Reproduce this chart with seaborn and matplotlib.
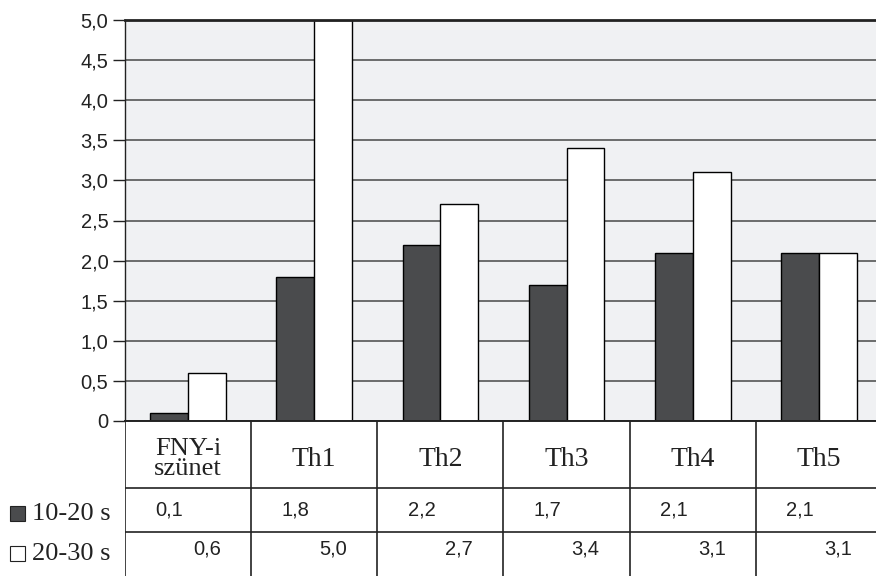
import pandas as pd
import matplotlib
matplotlib.use("Agg")
import matplotlib.pyplot as plt
from matplotlib.patches import Rectangle
from matplotlib.ticker import FuncFormatter, MultipleLocator
import seaborn as sns

# -----------------------------
# DATA
# -----------------------------
categories = ["FNY-i\nszünet", "Th1", "Th2", "Th3", "Th4", "Th5"]
series_names = ["10-20 s", "20-30 s"]
vals_10_20 = [0.1, 1.8, 2.2, 1.7, 2.1, 2.1]
vals_20_30 = [0.6, 5.0, 2.7, 3.4, 3.1, 2.1]
# numbers printed in the data table (as shown in the source)
table_10_20 = ["0,1", "1,8", "2,2", "1,7", "2,1", "2,1"]
table_20_30 = ["0,6", "5,0", "2,7", "3,4", "3,1", "3,1"]

df = pd.DataFrame({
    "cat": categories * 2,
    "series": [series_names[0]] * 6 + [series_names[1]] * 6,
    "value": vals_10_20 + vals_20_30,
})

# -----------------------------
# STYLE
# -----------------------------
sns.set_theme(style="white")
plt.rcParams["font.family"] = ["Liberation Sans", "DejaVu Sans"]
SERIF = ["Liberation Serif", "DejaVu Serif"]
DARK = "#4a4b4d"
BG = "#f0f1f3"
LINE = "#222222"

W, H = 876, 576
fig = plt.figure(figsize=(W / 100, H / 100), dpi=100, facecolor="white")

left = 125 / W
right = 882 / W
top_px, zero_px = 20, 421
ax = fig.add_axes([left, 1 - zero_px / H, right - left, (zero_px - top_px) / H])
tab = fig.add_axes([left, 0, right - left, 1 - zero_px / H], sharex=ax)

# -----------------------------
# BARS
# -----------------------------
sns.barplot(data=df, x="cat", y="value", hue="series",
            palette={series_names[0]: DARK, series_names[1]: "white"},
            width=0.6, gap=0, edgecolor="black", linewidth=1.0,
            legend=False, ax=ax)
ax.set_facecolor(BG)
ax.set_xlim(-0.5, 5.5)
ax.set_ylim(0, 5.0)
ax.yaxis.set_major_locator(MultipleLocator(0.5))
ax.yaxis.set_major_formatter(FuncFormatter(
    lambda v, p: "0" if abs(v) < 1e-9 else f"{v:.1f}".replace(".", ",")))
ax.set_axisbelow(True)
ax.yaxis.grid(True, color="#555555", linewidth=1.2)
ax.xaxis.grid(False)
ax.set_xlabel("")
ax.set_ylabel("")
ax.tick_params(axis="x", bottom=False, labelbottom=False)
ax.tick_params(axis="y", left=True, direction="out", length=9, width=1.0,
               color=LINE, labelsize=14.5, labelcolor="#222222", pad=3)
for s in ["left", "top"]:
    ax.spines[s].set_visible(True)
    ax.spines[s].set_color(LINE)
ax.spines["left"].set_linewidth(1.0)
ax.spines["top"].set_linewidth(2.0)
ax.spines["right"].set_visible(False)
ax.spines["bottom"].set_visible(False)

# -----------------------------
# DATA TABLE
# -----------------------------
tab.set_ylim(0, 1)
tab.set_facecolor("white")
tab.tick_params(left=False, bottom=False, labelleft=False, labelbottom=False)
for s in tab.spines.values():
    s.set_visible(False)
tab.spines["top"].set_visible(True)
tab.spines["top"].set_color(LINE)
tab.spines["top"].set_linewidth(1.4)

row_lines = [(576 - 488) / 155, (576 - 532) / 155]
for y in row_lines:
    tab.axhline(y, color=LINE, linewidth=1.2)
for i in range(len(categories) + 1):
    tab.axvline(i - 0.5, color=LINE, linewidth=1.2)

head_y = (1 + row_lines[0]) / 2 - 0.03
r1_y = (row_lines[0] + row_lines[1]) / 2
r2_y = row_lines[1] / 2
for i, c in enumerate(categories):
    tab.text(i, head_y, c, ha="center", va="center",
             fontsize=20 if "\n" not in c else 19,
             family=SERIF, color="#222222", linespacing=0.85)
    tab.text(i - 0.26, r1_y, table_10_20[i], ha="left", va="center",
             fontsize=14.5, color="#222222")
    tab.text(i + 0.04, r2_y + 0.03, table_20_30[i], ha="left", va="center",
             fontsize=14.5, color="#222222")

# legend swatches + row labels
for name, color, y_px in [(series_names[0], DARK, 514), (series_names[1], "white", 554)]:
    fig.patches.append(Rectangle((10 / W, 1 - (y_px + 7) / H), 15 / W, 15 / H,
                                 transform=fig.transFigure, facecolor=color,
                                 edgecolor="#222222", linewidth=0.8))
    fig.text(32 / W, 1 - y_px / H, name, ha="left", va="center",
             fontsize=19, family=SERIF, color="#222222")

fig.savefig("out.png", dpi=100, facecolor="white")
